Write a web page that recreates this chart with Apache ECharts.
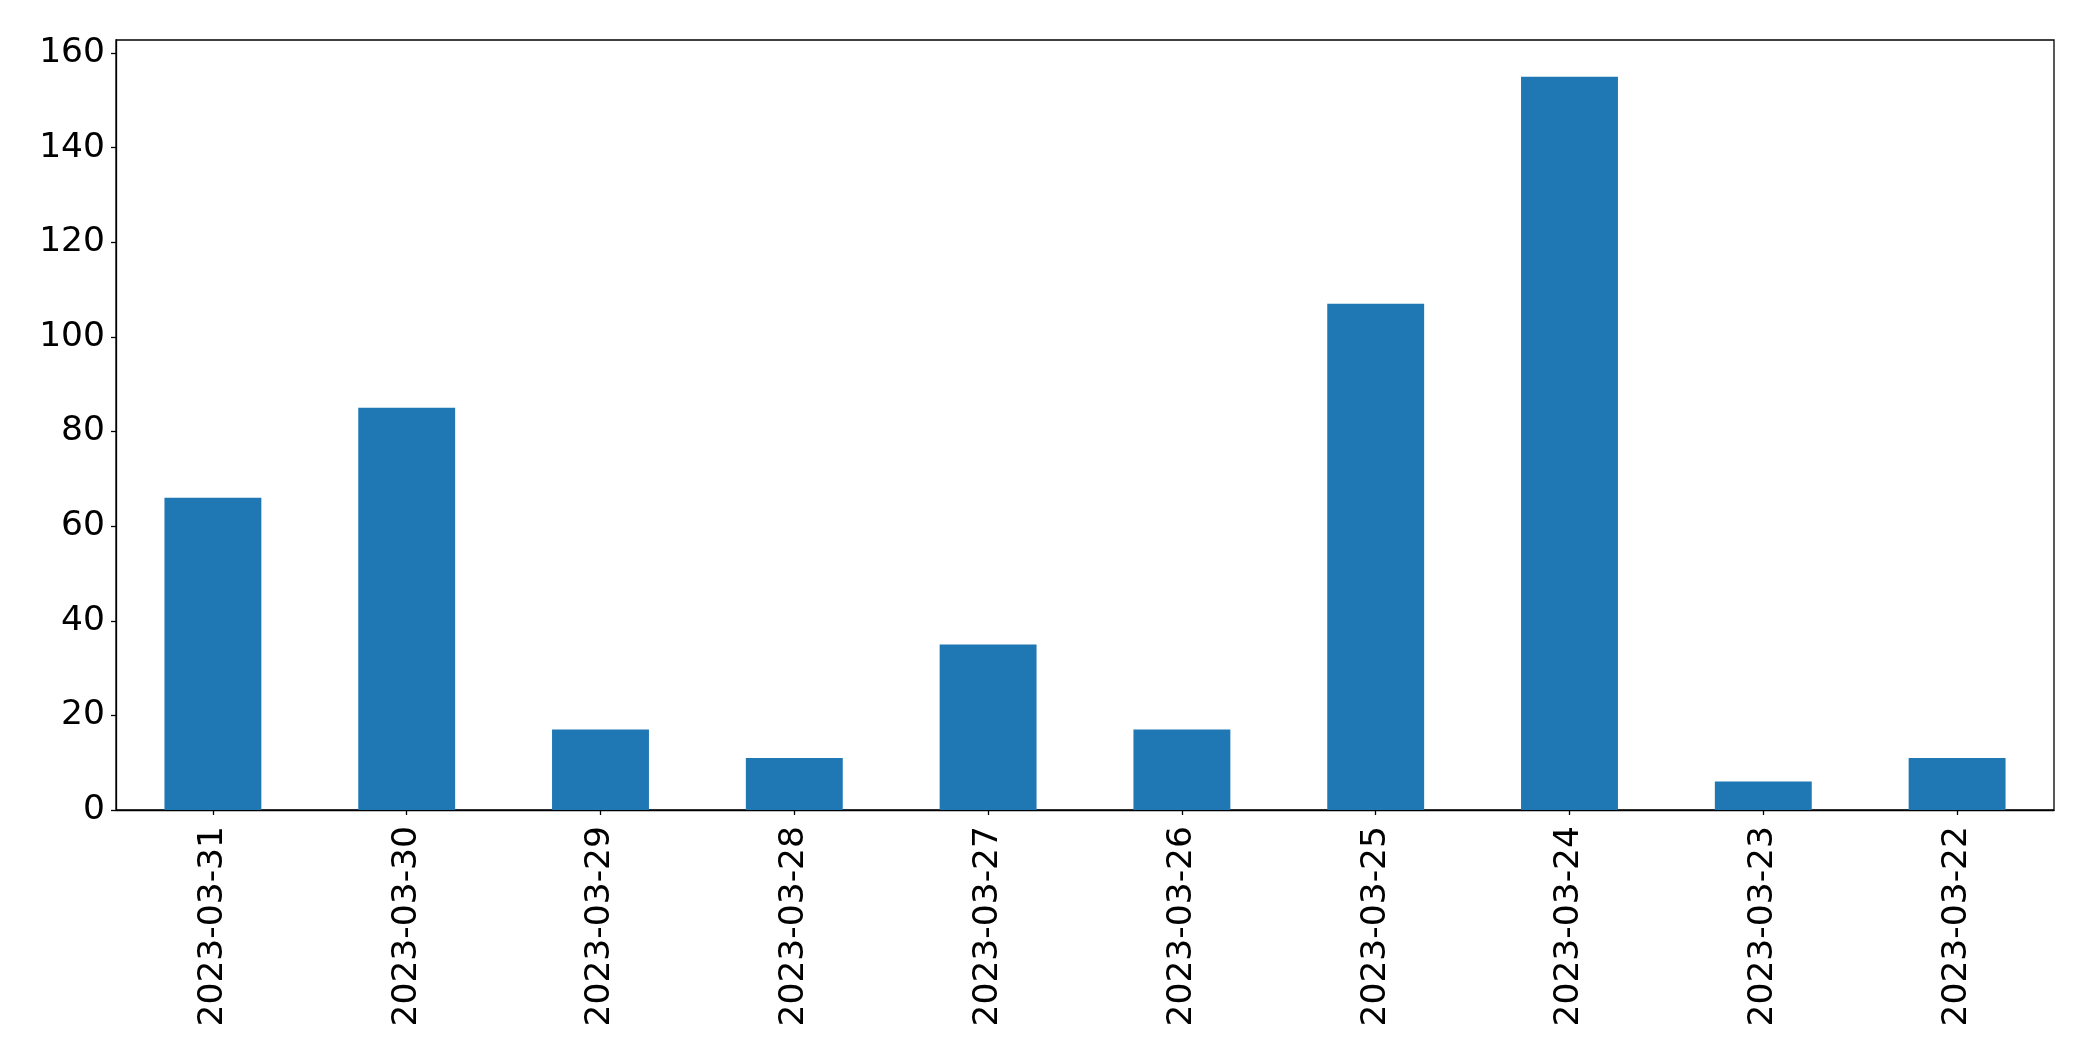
<!DOCTYPE html>
<html>
<head>
<meta charset="utf-8">
<script src="https://cdn.jsdelivr.net/npm/echarts@6/dist/echarts.min.js"></script>
<style>
html,body{margin:0;padding:0;background:#fff;}
#chart{width:2093px;height:1062px;}
</style>
</head>
<body>
<div id="chart"></div>
<script>
const categories = ["2023-03-31","2023-03-30","2023-03-29","2023-03-28","2023-03-27","2023-03-26","2023-03-25","2023-03-24","2023-03-23","2023-03-22"];
const values = [66, 85, 17, 11, 35, 17, 107, 155, 6, 11];
const yTicks = [0, 20, 40, 60, 80, 100, 120, 140, 160];

const chart = echarts.init(document.getElementById('chart'), null, {renderer: 'canvas'});
const font = 'DejaVu Sans';
chart.setOption({
  animation: false,
  backgroundColor: '#ffffff',
  grid: {
    left: 116, right: 39, top: 40, bottom: 252,
    show: true, borderColor: '#000', borderWidth: 1.3, backgroundColor: 'transparent'
  },
  xAxis: {
    type: 'category',
    data: categories,
    boundaryGap: true,
    axisLine: {show: true, lineStyle: {color: '#000', width: 1.3}},
    axisTick: {show: true, alignWithLabel: true, length: 5, lineStyle: {color: '#000', width: 1.3}},
    axisLabel: {rotate: 90, margin: 16, color: '#000', fontSize: 34.5, fontFamily: font, interval: 0},
    splitLine: {show: false}
  },
  yAxis: {
    type: 'value',
    min: 0,
    max: 162.75,
    interval: 20,
    axisLine: {show: true, lineStyle: {color: '#000', width: 1.3}},
    axisTick: {show: true, length: 5, lineStyle: {color: '#000', width: 1.3}},
    axisLabel: {
      margin: 11, color: '#000', fontSize: 34.5, fontFamily: font,
      padding: [6, 0, 0, 0],
      formatter: function (v) { return yTicks.indexOf(v) >= 0 ? String(v) : ''; },
      showMaxLabel: false
    },
    splitLine: {show: false}
  },
  series: [{
    type: 'bar',
    data: values,
    barWidth: '50%',
    itemStyle: {color: '#1f77b4'}
  }]
});
</script>
</body>
</html>
